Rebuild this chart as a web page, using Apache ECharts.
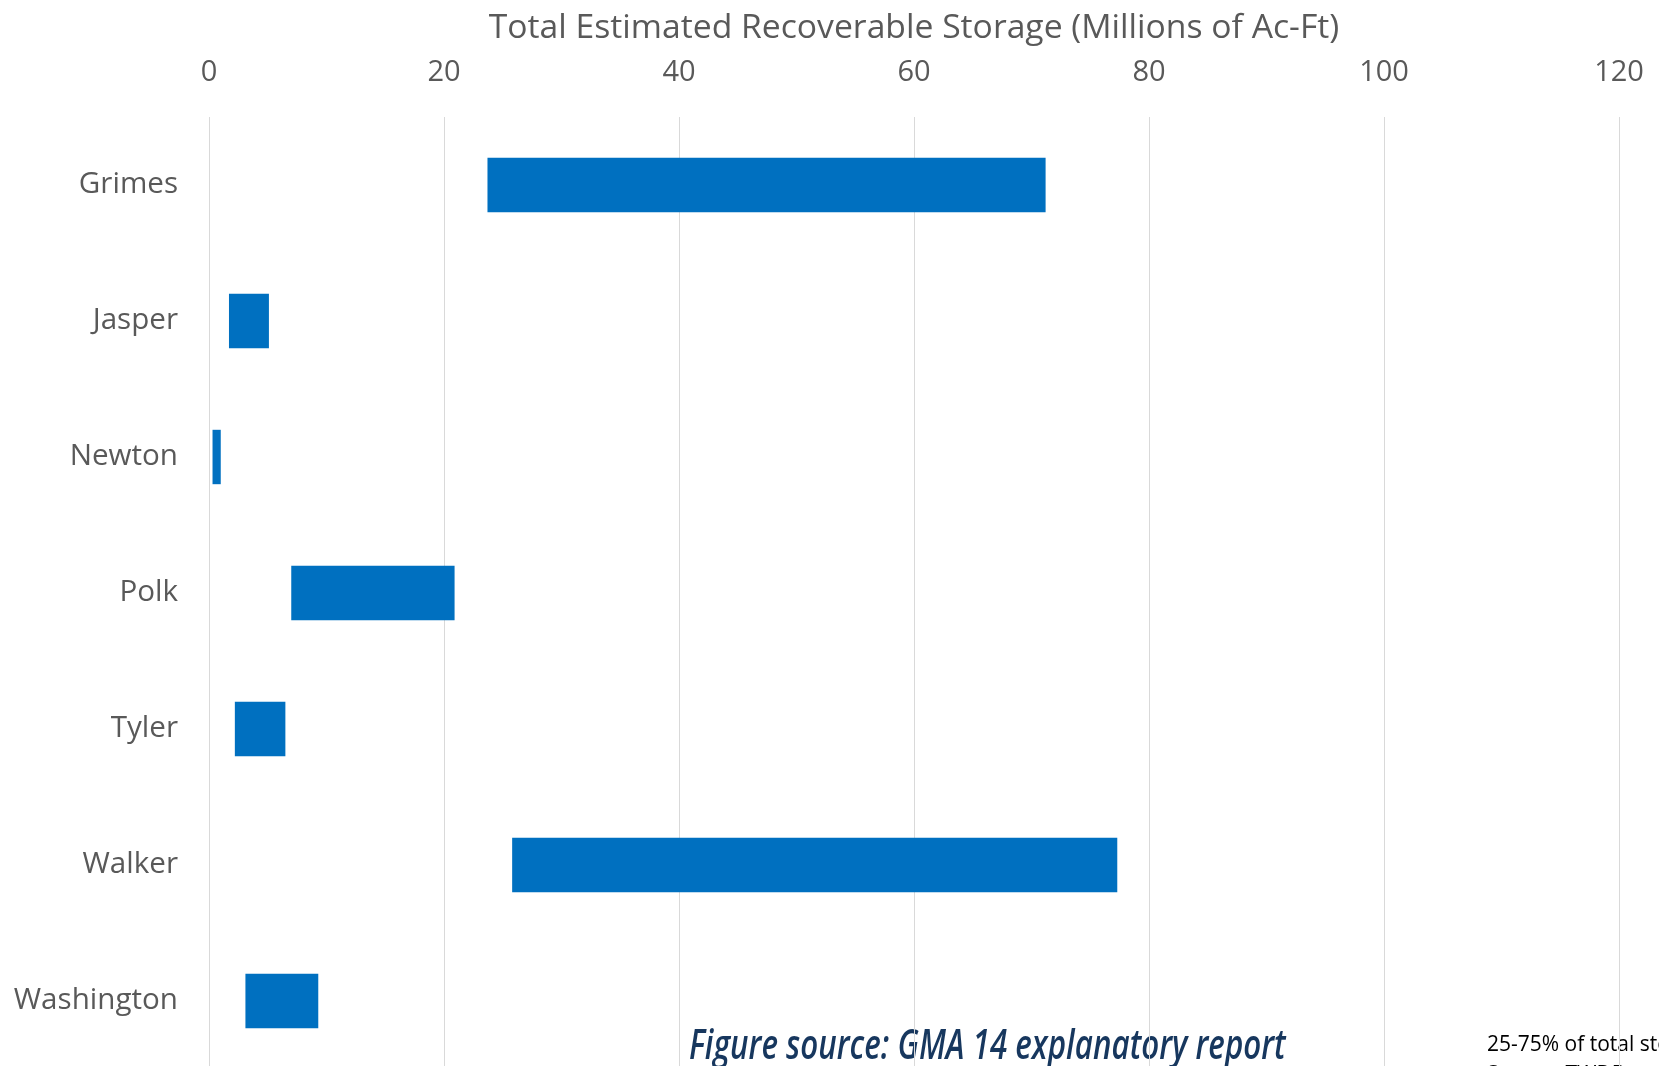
<!DOCTYPE html>
<html>
<head>
<meta charset="utf-8">
<title>Total Estimated Recoverable Storage</title>
<script src="https://cdn.jsdelivr.net/npm/echarts@6/dist/echarts.min.js"></script>
<style>
  html, body { margin: 0; padding: 0; background: #ffffff; }
  #chart { width: 1659px; height: 1066px; }
</style>
</head>
<body>
<div id="chart"></div>
<script>
// Counties, top to bottom
const counties = ['Grimes', 'Jasper', 'Newton', 'Polk', 'Tyler', 'Walker', 'Washington'];
// Recoverable storage range per county (millions of acre-feet)
const storageLow  = [23.7, 1.7, 0.3, 7.0, 2.2, 25.8, 3.1];
const storageHigh = [71.2, 5.1, 1.0, 20.9, 6.5, 77.3, 9.3];
// Value axis ticks
const axisMin = 0;
const axisMax = 120;
const axisStep = 20;

const axisTitle = 'Total Estimated Recoverable Storage (Millions of Ac-Ft)';
const footerNote = 'Figure source: GMA 14 explanatory report';
const sideNote = ['25-75% of total storage', 'Source: TWDB'];

const textGray = '#595959';
const barBlue = '#0070C0';
const font = '"Open Sans", "Liberation Sans", sans-serif';

// Visible bar length = span between the low and high estimates
const storageSpan = storageHigh.map((h, i) => +(h - storageLow[i]).toFixed(2));

const chart = echarts.init(document.getElementById('chart'), null, { renderer: 'canvas' });

chart.setOption({
  backgroundColor: '#ffffff',
  animation: false,
  grid: {
    left: 209, right: 40, top: 117, height: 952,
    containLabel: false,
    outerBoundsMode: 'none'
  },
  xAxis: {
    type: 'value',
    position: 'top',
    min: axisMin,
    max: axisMax,
    interval: axisStep,
    name: axisTitle,
    nameLocation: 'middle',
    nameGap: 72,
    nameTextStyle: { color: textGray, fontFamily: font, fontSize: 33.7 },
    axisLine: { show: false },
    axisTick: { show: false },
    axisLabel: { color: textGray, fontFamily: font, fontSize: 29, margin: 30 },
    splitLine: { show: true, lineStyle: { color: '#d9d9d9', width: 1 } }
  },
  yAxis: {
    type: 'category',
    data: counties,
    inverse: true,
    axisLine: { show: false },
    axisTick: { show: false },
    axisLabel: { color: textGray, fontFamily: font, fontSize: 29.6, margin: 31 }
  },
  series: [
    {
      name: 'base',
      type: 'bar',
      stack: 'range',
      data: storageLow,
      itemStyle: { color: 'transparent' },
      barCategoryGap: '60%',
      silent: true
    },
    {
      name: 'range',
      type: 'bar',
      stack: 'range',
      data: storageSpan,
      itemStyle: { color: barBlue },
      barCategoryGap: '60%'
    }
  ],
  graphic: [
    {
      type: 'text',
      x: 689,
      y: 1047,
      scaleX: 0.765,
      originX: 0,
      originY: 0,
      style: {
        text: footerNote,
        fontFamily: '"Open Sans", sans-serif',
        fontStyle: 'italic',
        fontWeight: 600,
        fontSize: 41,
        verticalAlign: 'middle',
        fill: '#17375E'
      }
    },
    {
      type: 'text',
      left: 1487,
      top: 1030,
      style: {
        text: sideNote.join('\n'),
        fontFamily: font,
        fontSize: 21,
        lineHeight: 30,
        fill: '#000000'
      }
    }
  ]
});
</script>
</body>
</html>
